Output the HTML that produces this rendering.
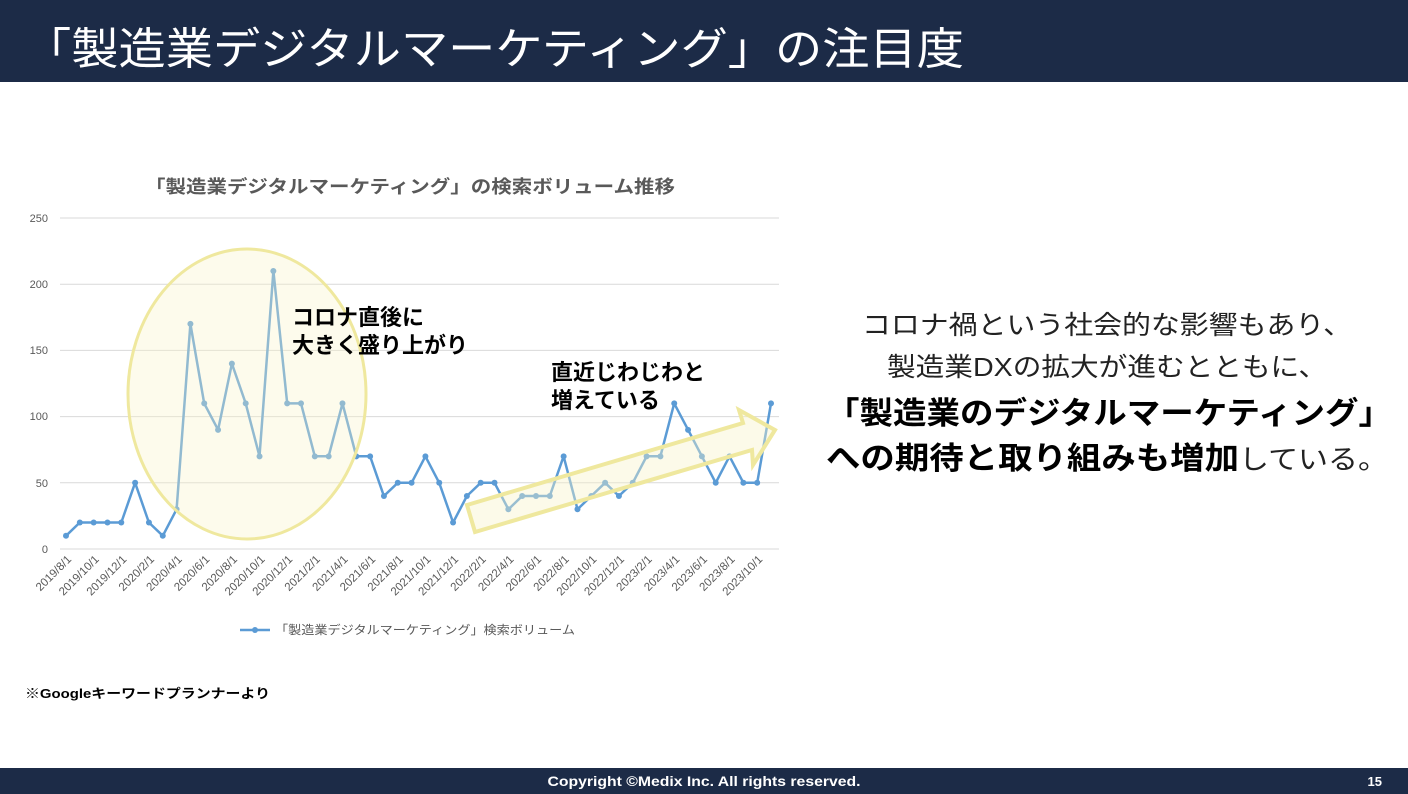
<!DOCTYPE html>
<html><head><meta charset="utf-8"><style>
body{margin:0;width:1408px;height:794px;overflow:hidden;background:#fff;font-family:"Liberation Sans","Noto Sans CJK JP",sans-serif;}
</style></head><body>
<svg width="1408" height="794" xmlns="http://www.w3.org/2000/svg" style="position:absolute;left:0;top:0;font-family:'Liberation Sans','Noto Sans CJK JP',sans-serif">
<rect x="0" y="0" width="1408" height="82" fill="#1c2b47"/>
<text x="24" y="64" font-size="44" fill="#fff" textLength="940" lengthAdjust="spacingAndGlyphs">「製造業デジタルマーケティング」の注目度</text>
<rect x="0" y="768" width="1408" height="26" fill="#1c2b47"/>
<text x="704" y="786" font-size="14" font-weight="bold" fill="#fff" text-anchor="middle" textLength="313" lengthAdjust="spacingAndGlyphs">Copyright ©Medix Inc. All rights reserved.</text>
<text x="1382" y="786" font-size="13" font-weight="bold" fill="#fff" text-anchor="end">15</text>

<text x="410" y="193" font-size="18" font-weight="bold" fill="#595959" text-anchor="middle" textLength="530" lengthAdjust="spacingAndGlyphs">「製造業デジタルマーケティング」の検索ボリューム推移</text>
<g stroke="#d9d9d9" stroke-width="1">
<line x1="60" y1="218" x2="779" y2="218"/><line x1="60" y1="284.2" x2="779" y2="284.2"/><line x1="60" y1="350.4" x2="779" y2="350.4"/><line x1="60" y1="416.6" x2="779" y2="416.6"/><line x1="60" y1="482.8" x2="779" y2="482.8"/><line x1="60" y1="549" x2="779" y2="549"/>
</g>
<g font-size="11" fill="#595959" text-anchor="end">
<text x="48" y="222">250</text><text x="48" y="288">200</text><text x="48" y="354">150</text><text x="48" y="420">100</text><text x="48" y="487">50</text><text x="48" y="553">0</text>
</g>
<g font-size="11.5" fill="#595959" text-anchor="end" id="xl"></g>
<polyline id="ln" fill="none" stroke="#5b9bd5" stroke-width="2.5" stroke-linejoin="round" points=""/>
<g id="dots" fill="#5b9bd5"></g>
<ellipse cx="247" cy="394" rx="119" ry="145" fill="#f8f3c8" fill-opacity="0.35" stroke="#efe89e" stroke-width="3"/>
<polygon points="467,505 743,423 739,410 775,430 753,465 752,450 475,532" fill="#f8f3c8" fill-opacity="0.4" stroke="#efe89e" stroke-width="4" stroke-linejoin="miter"/>
<text x="292" y="325" font-size="22" font-weight="bold" fill="#000">コロナ直後に</text>
<text x="292" y="353" font-size="22" font-weight="bold" fill="#000">大きく盛り上がり</text>
<text x="551" y="380" font-size="22" font-weight="bold" fill="#000">直近じわじわと</text>
<text x="551" y="408" font-size="22" font-weight="bold" fill="#000">増えている</text>
<line x1="240" y1="630" x2="270" y2="630" stroke="#5b9bd5" stroke-width="2.5"/><circle cx="255" cy="630" r="3" fill="#5b9bd5"/>
<text x="275" y="634" font-size="12" fill="#595959" textLength="300" lengthAdjust="spacingAndGlyphs">「製造業デジタルマーケティング」検索ボリューム</text>
<text x="25" y="698" font-size="13" font-weight="bold" fill="#000" textLength="245" lengthAdjust="spacingAndGlyphs">※Googleキーワードプランナーより</text>

<g text-anchor="middle">
<text x="1107" y="334" font-size="26" fill="#222" textLength="490" lengthAdjust="spacingAndGlyphs">コロナ禍という社会的な影響もあり、</text>
<text x="1107" y="376" font-size="26" fill="#222" textLength="440" lengthAdjust="spacingAndGlyphs">製造業DXの拡大が進むとともに、</text>
<text x="1109" y="424" font-size="31" font-weight="bold" fill="#000" textLength="566" lengthAdjust="spacingAndGlyphs">「製造業のデジタルマーケティング」</text>
</g>
<text x="826" y="469" font-size="31" fill="#000" textLength="562" lengthAdjust="spacingAndGlyphs"><tspan font-weight="bold">への期待と取り組みも増加</tspan><tspan font-size="27" fill="#222">している。</tspan></text>
</svg>
<script>
var v=[10,20,20,20,20,50,20,10,30,170,110,90,140,110,70,210,110,110,70,70,110,70,70,40,50,50,70,50,20,40,50,50,30,40,40,40,70,30,40,50,40,50,70,70,110,90,70,50,70,50,50,110];
var ns="http://www.w3.org/2000/svg",pts=[],d=document.getElementById('dots'),xl=document.getElementById('xl');
for(var i=0;i<v.length;i++){var x=66+i*(705/51),y=549-v[i]*1.324;pts.push(x.toFixed(1)+","+y.toFixed(1));
var c=document.createElementNS(ns,'circle');c.setAttribute('cx',x);c.setAttribute('cy',y);c.setAttribute('r',3);d.appendChild(c);
if(i%2==0){var m=7+i,yr=2019+Math.floor(m/12),mm=m%12+1;var t=document.createElementNS(ns,'text');t.setAttribute('transform','translate('+(x+6)+',560) rotate(-45)');t.textContent=yr+"/"+mm+"/1";xl.appendChild(t);}}
document.getElementById('ln').setAttribute('points',pts.join(' '));
</script>
</body></html>
